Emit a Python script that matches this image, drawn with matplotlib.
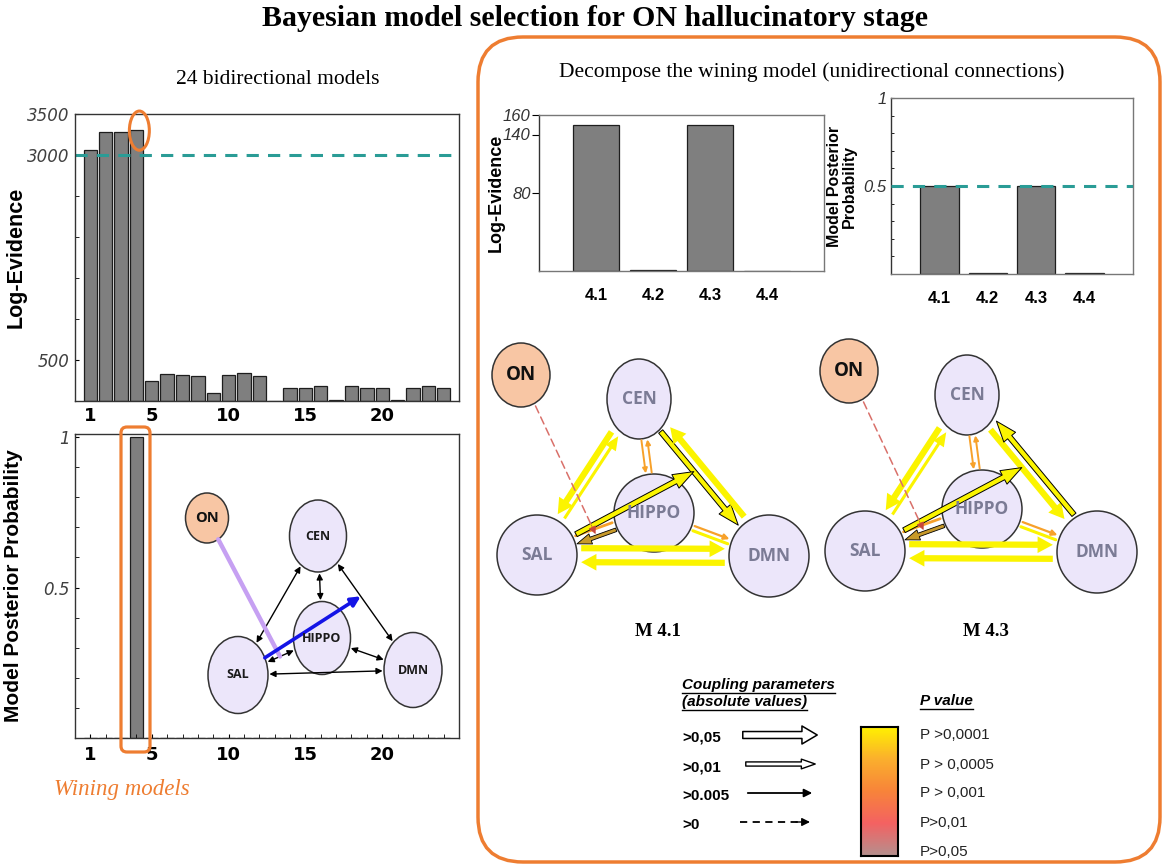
import numpy as np
import matplotlib.pyplot as plt
from matplotlib.patches import Ellipse, FancyBboxPatch, FancyArrowPatch
from matplotlib.colors import LinearSegmentedColormap
from matplotlib.ticker import FixedLocator, MultipleLocator

# ---- data ----
models = list(range(1, 25))
log_evidence = [3064, 3284, 3284, 3309, 245, 330, 318, 306, 98, 318, 343, 306,
                5, 160, 160, 180, 10, 180, 160, 160, 10, 160, 180, 160]
posterior = [0, 0, 0, 1.0, 0, 0, 0, 0, 0, 0, 0, 0,
             0, 0, 0, 0, 0, 0, 0, 0, 0, 0, 0, 0]
sub_models = ['4.1', '4.2', '4.3', '4.4']
sub_log_evidence = [150, 1.5, 150, 0.5]
sub_posterior = [0.5, 0.004, 0.5, 0.004]
coupling_labels = ['>0,05', '>0,01', '>0.005', '>0']
pvalue_labels = ['P >0,0001', 'P > 0,0005', 'P > 0,001', 'P>0,01', 'P>0,05']
pvalue_colors = ['#fff200', '#fbb02d', '#f8843a', '#f46262', '#b5908e']

W, H = 1167, 866
bar_c, edge_c = '#7f7f7f', '#1e1e1e'
teal, orange = '#2a9c96', '#ee7d31'
yellow, lorange = '#fbf400', '#f7a12a'
serif = 'Liberation Serif'
sans = 'Liberation Sans'
narrow = ['Liberation Sans Narrow', 'Liberation Sans']
node_font = 'Open Sans'

fig = plt.figure(figsize=(W / 100, H / 100), dpi=100)


def px_axes(x0, y0, x1, y1):
    return fig.add_axes([x0 / W, 1 - y1 / H, (x1 - x0) / W, (y1 - y0) / H])


def style_axes(ax, spine='#333333'):
    for s in ax.spines.values():
        s.set_color(spine)
        s.set_linewidth(1.0)


# ---- top-left: log evidence of the 24 models ----
ax1 = px_axes(75, 114, 459, 401)
ax1.bar(models, log_evidence, width=0.87, color=bar_c, edgecolor=edge_c, lw=0.9)
ax1.axhline(3000, color=teal, ls=(0, (4, 3)), lw=2.2)
ax1.set_xlim(0, 25)
ax1.set_ylim(0, 3500)
ax1.set_yticks([500, 3000, 3500])
ax1.yaxis.set_minor_locator(FixedLocator([1000, 1500, 2000, 2500]))
ax1.set_xticks([1, 5, 10, 15, 20])
ax1.tick_params(axis='y', which='both', direction='in', length=3, labelsize=12,
                labelcolor='#404040', pad=4)
ax1.tick_params(axis='x', length=0, labelsize=13, pad=4)
for t in ax1.get_yticklabels():
    t.set_fontstyle('italic')
for t in ax1.get_xticklabels():
    t.set_fontweight('bold')
ax1.set_ylabel('Log-Evidence', fontsize=15.5, fontweight='bold', family=sans)
ax1.yaxis.set_label_coords(-0.125, 0.5)
ax1.add_patch(Ellipse((4.19, 3297), 1.3, 478, fill=False, ec=orange, lw=2.2,
                      clip_on=False, zorder=4))
style_axes(ax1)

# ---- bottom-left: posterior probability of the 24 models ----
ax2 = px_axes(75, 434, 459, 738)
ax2.bar(models, posterior, width=0.87, color=bar_c, edgecolor=edge_c, lw=0.9)
ax2.set_xlim(0, 25)
ax2.set_ylim(0, 1.01)
ax2.set_yticks([0.5, 1])
ax2.set_yticklabels(['0.5', '1'])
ax2.yaxis.set_minor_locator(MultipleLocator(0.1))
ax2.set_xticks([1, 5, 10, 15, 20])
ax2.xaxis.set_minor_locator(MultipleLocator(1))
ax2.tick_params(axis='y', which='both', direction='in', length=3, labelsize=12,
                labelcolor='#404040', pad=4)
ax2.tick_params(axis='x', which='both', direction='in', length=3, labelsize=13, pad=6)
for t in ax2.get_yticklabels():
    t.set_fontstyle('italic')
for t in ax2.get_xticklabels():
    t.set_fontweight('bold')
ax2.set_ylabel('Model Posterior Probability', fontsize=15, fontweight='bold', family=sans)
ax2.yaxis.set_label_coords(-0.135, 0.5)
style_axes(ax2)

# ---- top-right: decomposed models ----
ax3 = px_axes(539, 115, 824, 271)
ax3.bar(range(1, 5), sub_log_evidence, width=0.8, color=bar_c, edgecolor=edge_c, lw=0.9)
ax3.set_xlim(0, 5)
ax3.set_ylim(0, 160)
ax3.set_xticks(range(1, 5))
ax3.set_xticklabels(sub_models, family=narrow, fontweight='bold', fontsize=12)
ax3.set_yticks([80, 140, 160])
ax3.set_yticklabels(['80', '140', '160'], family=narrow, fontstyle='italic', fontsize=12)
ax3.tick_params(axis='x', length=0, pad=12)
ax3.tick_params(axis='y', length=5, direction='out', pad=1, labelcolor='#333333')
ax3.set_ylabel('Log-Evidence', fontsize=13, fontweight='bold', family=sans)
ax3.yaxis.set_label_coords(-0.12, 0.5)
style_axes(ax3, '#777777')
ax3.spines['left'].set_color('#333333')

ax4 = px_axes(891, 98, 1133, 274)
ax4.bar(range(1, 5), sub_posterior, width=0.79, color=bar_c, edgecolor=edge_c, lw=0.9)
ax4.axhline(0.5, color=teal, ls=(0, (4, 3)), lw=2.2, zorder=3)
ax4.set_xlim(0, 5)
ax4.set_ylim(0, 1)
ax4.set_xticks(range(1, 5))
ax4.set_xticklabels(sub_models, family=narrow, fontweight='bold', fontsize=12)
ax4.set_yticks([0.5, 1])
ax4.set_yticklabels(['0.5', '1'], family=narrow, fontstyle='italic', fontsize=12)
ax4.yaxis.set_minor_locator(MultipleLocator(0.1))
ax4.tick_params(axis='x', length=0, pad=12)
ax4.tick_params(axis='y', which='both', length=2, direction='in', pad=3, labelcolor='#333333')
ax4.set_ylabel('Model Posterior\nProbability', fontsize=11.5, fontweight='bold',
               family=sans, linespacing=1.0)
ax4.yaxis.set_label_coords(-0.14, 0.5)
style_axes(ax4, '#777777')
ax4.spines['left'].set_color('#333333')

# ---- overlay in pixel coordinates for the diagrams ----
ov = fig.add_axes([0, 0, 1, 1], zorder=5)
ov.set_xlim(0, W)
ov.set_ylim(H, 0)
ov.axis('off')


def rim(c, size, d):
    a, b = size[0] / 2, size[1] / 2
    t = 1 / np.sqrt((d[0] / a) ** 2 + (d[1] / b) ** 2)
    return np.asarray(c, float) + t * d


def link(nd, p, q, off=0.0, gap=2, style='-|>', ms=10, color='k', lw=1.0,
         ec=None, ls='-', z=3):
    c1 = np.asarray(nd[p][0], float)
    c2 = np.asarray(nd[q][0], float) if isinstance(q, str) else np.asarray(q, float)
    d = (c2 - c1) / np.hypot(*(c2 - c1))
    n = np.array([-d[1], d[0]])
    a = rim(c1 + n * off, nd[p][1], d)
    b = rim(c2 + n * off, nd[q][1], -d) if isinstance(q, str) else c2 + n * off
    kw = dict(arrowstyle=style, mutation_scale=ms, lw=lw, linestyle=ls,
              shrinkA=gap, shrinkB=gap, zorder=z)
    if ec is None:
        ov.add_patch(FancyArrowPatch(a, b, color=color, **kw))
    else:
        ov.add_patch(FancyArrowPatch(a, b, facecolor=color, edgecolor=ec, **kw))
    return a, b, d


def draw_nodes(nd, fc_main, tc, fs, on_fs):
    for name, (c, size) in nd.items():
        fc = '#f8c6a4' if name == 'ON' else fc_main
        ov.add_patch(Ellipse(c, size[0], size[1], fc=fc, ec='#333333', lw=1.1, zorder=2))
        ov.text(c[0], c[1], name, ha='center', va='center', fontweight='bold',
                color='#111111' if name == 'ON' else tc,
                fontsize=on_fs if name == 'ON' else fs, family=node_font, zorder=6)


def between(nd, a, b, f):
    pa, pb = np.asarray(nd[a][0], float), np.asarray(nd[b][0], float)
    return pa + f * (pb - pa)


# small network inside the posterior panel
inset = {'ON': ((207, 518), (43, 50)), 'CEN': ((318, 536), (57, 72)),
         'HIPPO': ((322, 638), (57, 73)), 'SAL': ((238, 675), (60, 77)),
         'DMN': ((413, 670), (58, 75))}
draw_nodes(inset, '#ece6fa', '#1a1a1a', 9, 10.5)
for p, q in [('SAL', 'CEN'), ('CEN', 'HIPPO'), ('CEN', 'DMN'), ('SAL', 'HIPPO'),
             ('HIPPO', 'DMN'), ('SAL', 'DMN')]:
    link(inset, p, q, style='<|-|>', ms=9, lw=1.0, gap=1)
link(inset, 'ON', tuple(between(inset, 'SAL', 'HIPPO', 0.5)), style='-',
     color='#c6a0f2', lw=3.2, gap=0, z=4)
link(inset, 'SAL', tuple(between(inset, 'CEN', 'DMN', 0.45)), style='-|>',
     ms=14, color='#1414e6', lw=2.6, gap=0, z=4)

# decomposed networks M 4.1 and M 4.3
base = {'ON': ((521, 375), (58, 64)), 'CEN': ((639, 399), (64, 80)),
        'HIPPO': ((654, 513), (80, 78)), 'SAL': ((537, 555), (80, 80)),
        'DMN': ((769, 556), (80, 82))}
Y_THICK = 'simple,head_length=1.1,head_width=1.2,tail_width=0.45'
Y_THIN = 'simple,head_length=1.0,head_width=0.9,tail_width=0.22'
OUTL = 'simple,head_length=1.5,head_width=1.1,tail_width=0.38'


def decomposed(shift, label, outlined_forward):
    nd = {k: ((c[0] + shift[0], c[1] + shift[1]), s) for k, (c, s) in base.items()}
    draw_nodes(nd, '#ece6fa', '#7b7b95', 12.5, 13.5)
    link(nd, 'SAL', 'CEN', off=3, style=Y_THIN, color=yellow, lw=0, gap=4)
    link(nd, 'CEN', 'SAL', off=5, style=Y_THICK, color=yellow, lw=0, gap=4)
    if outlined_forward:
        link(nd, 'CEN', 'DMN', off=4, style=OUTL, color=yellow, ec='k', lw=0.7, gap=2)
        link(nd, 'DMN', 'CEN', off=6, style=Y_THICK, color=yellow, lw=0, gap=4)
    else:
        link(nd, 'CEN', 'DMN', off=4, style=Y_THICK, color=yellow, lw=0, gap=4)
        link(nd, 'DMN', 'CEN', off=6, style=OUTL, color=yellow, ec='k', lw=0.7, gap=2)
    link(nd, 'SAL', 'DMN', off=-7, style=Y_THICK, color=yellow, lw=0, gap=3)
    link(nd, 'DMN', 'SAL', off=-7, style=Y_THICK, color=yellow, lw=0, gap=3)
    link(nd, 'CEN', 'HIPPO', off=3, style='-|>', ms=7, color=lorange, lw=1.4, gap=1)
    link(nd, 'HIPPO', 'CEN', off=3, style='-|>', ms=7, color=lorange, lw=1.4, gap=1)
    link(nd, 'HIPPO', 'DMN', off=-2, style='-|>', ms=8, color=lorange, lw=1.6, gap=2)
    link(nd, 'DMN', 'HIPPO', off=-3, style='-', color=yellow, lw=2.2, gap=2)
    link(nd, 'HIPPO', 'SAL', off=-3, style=OUTL, ms=7, color='#c89a2a', ec='k', lw=0.6, gap=1)
    link(nd, 'SAL', 'HIPPO', off=-5, style='-', color=lorange, lw=2.0, gap=2)
    link(nd, 'SAL', tuple(between(nd, 'CEN', 'DMN', 0.45)), style=OUTL, ms=10,
         color=yellow, ec='k', lw=0.7, gap=3, z=4)
    tip = between(nd, 'SAL', 'HIPPO', 0.5)
    on_c = np.asarray(nd['ON'][0], float)
    a, b, d = link(nd, 'ON', tuple(tip - 8 * (tip - on_c) / np.hypot(*(tip - on_c))),
                   style='-', color='#d9706a', lw=1.1, ls=(0, (5, 3)), gap=2, z=4)
    ov.add_patch(FancyArrowPatch(b - 2 * d, tip, arrowstyle='-|>', mutation_scale=12,
                                 color='#c8463c', lw=0.5, shrinkA=0, shrinkB=0, zorder=4))
    cx = (nd['SAL'][0][0] + nd['DMN'][0][0]) / 2 + 5
    ov.text(cx, 632, label, ha='center', va='center', fontsize=13.5,
            fontweight='bold', family=serif)


decomposed((0, 0), 'M 4.1', True)
decomposed((328, -4), 'M 4.3', False)

# ---- frames and titles ----
ov.add_patch(FancyBboxPatch((478, 37), 682, 825, boxstyle='round,pad=0,rounding_size=45',
                            fill=False, ec=orange, lw=2.5))
ov.add_patch(FancyBboxPatch((121, 427), 29, 325, boxstyle='round,pad=0,rounding_size=6',
                            fill=False, ec=orange, lw=2.3))
ov.text(595, 18, 'Bayesian model selection for ON hallucinatory stage', ha='center',
        va='center', fontsize=21.5, fontweight='bold', family=serif)
ov.text(278, 80, '24 bidirectional models', ha='center', va='center', fontsize=15.5,
        family=serif)
ov.text(812, 72, 'Decompose the wining model (unidirectional connections)', ha='center',
        va='center', fontsize=15.5, family=serif)
ov.text(122, 790, 'Wining models', ha='center', va='center', fontsize=16.5,
        fontstyle='italic', color=orange, family=serif)

# ---- legend ----
heads = [ov.text(682, 685, 'Coupling parameters', fontsize=11, fontweight='bold',
                 fontstyle='italic', family=sans, va='center'),
         ov.text(682, 702, '(absolute values)', fontsize=11, fontweight='bold',
                 fontstyle='italic', family=sans, va='center'),
         ov.text(920, 701, 'P value', fontsize=11, fontweight='bold',
                 fontstyle='italic', family=sans, va='center')]
rows_y = [738, 767, 796, 825]
for lab, y in zip(coupling_labels, rows_y):
    ov.text(682, y, lab, fontsize=11, fontweight='bold', family=sans, va='center')
ov.add_patch(FancyArrowPatch((740, rows_y[0] - 3), (820, rows_y[0] - 3), mutation_scale=1,
                             arrowstyle='simple,head_length=11,head_width=13,tail_width=5',
                             fc='white', ec='k', lw=1.1))
ov.add_patch(FancyArrowPatch((743, rows_y[1] - 3), (818, rows_y[1] - 3), mutation_scale=1,
                             arrowstyle='simple,head_length=10,head_width=7,tail_width=3',
                             fc='white', ec='k', lw=1.0))
ov.add_patch(FancyArrowPatch((745, rows_y[2] - 3), (815, rows_y[2] - 3), arrowstyle='-|>',
                             mutation_scale=12, color='k', lw=1.3))
ov.plot([740, 800], [rows_y[3] - 3] * 2, color='k', lw=1.3, ls=(0, (4, 3)))
ov.add_patch(FancyArrowPatch((796, rows_y[3] - 3), (810, rows_y[3] - 3), arrowstyle='-|>',
                             mutation_scale=12, color='k', lw=1.0, shrinkA=0, shrinkB=0))
pv_y = [735, 765, 793, 823, 852]
for lab, y in zip(pvalue_labels, pv_y):
    ov.text(920, y, lab, fontsize=11, family=sans, va='center', color='#222222')

cax = px_axes(861, 727, 898, 856)
cmap = LinearSegmentedColormap.from_list('pv', pvalue_colors)
cax.imshow(np.linspace(0, 1, 200)[:, None], cmap=cmap, aspect='auto')
cax.set_xticks([])
cax.set_yticks([])
for s in cax.spines.values():
    s.set_linewidth(1.5)

fig.canvas.draw()
inv = ov.transData.inverted()
for t in heads:
    bb = t.get_window_extent()
    (x0, y0), (x1, y1) = inv.transform([[bb.x0, bb.y0], [bb.x1, bb.y1]])
    ov.plot([x0, x1], [y0 + 1, y0 + 1], color='k', lw=1.0)

fig.savefig('out.png', dpi=100)
